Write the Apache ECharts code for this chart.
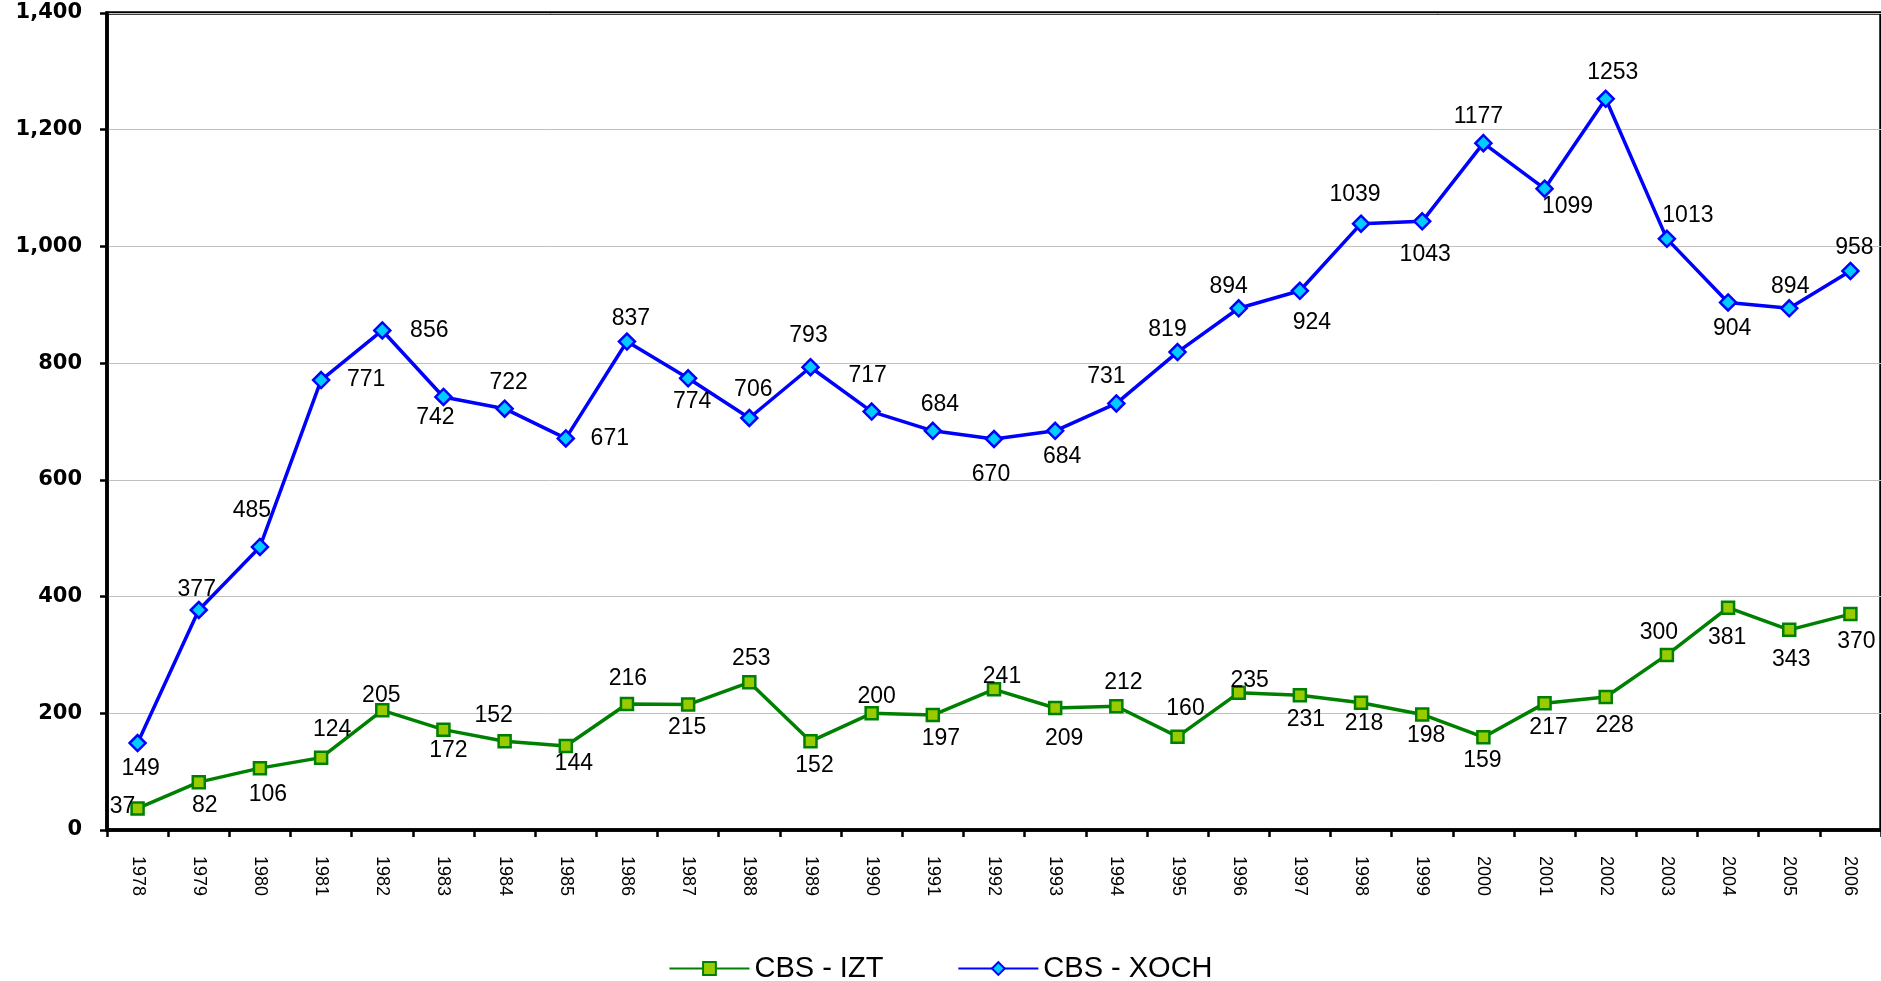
<!DOCTYPE html>
<html>
<head>
<meta charset="utf-8">
<script src="https://cdn.jsdelivr.net/npm/echarts@6/dist/echarts.min.js"></script>
<style>
html,body{margin:0;padding:0;background:#fff;}
#chart{width:1881px;height:981px;}
</style>
</head>
<body>
<div id="chart"></div>
<script>
var years = ['1978','1979','1980','1981','1982','1983','1984','1985','1986','1987','1988','1989','1990','1991','1992','1993','1994','1995','1996','1997','1998','1999','2000','2001','2002','2003','2004','2005','2006'];
var izt = [37,82,106,124,205,172,152,144,216,215,253,152,200,197,241,209,212,160,235,231,218,198,159,217,228,300,381,343,370];
var xoch = [149,377,485,771,856,742,722,671,837,774,706,793,717,684,670,684,731,819,894,924,1039,1043,1177,1099,1253,1013,904,894,958];
var seriesNames = ['CBS - IZT','CBS - XOCH'];

// label placement (pixel offsets of each value label from its point)
var iztLabelOffset = [[-15,-2],[6,24],[8,27],[11,-28],[-1,-15],[5,21],[-11,-26],[8,18],[1,-25],[-1,23],[2,-24],[4,24],[5,-17],[8,24],[8,-13],[9,31],[7,-24],[8,-28],[11,-12],[6,24],[3,21],[4,21],[-1,23],[4,24],[9,29],[-8,-22],[-1,30],[2,30],[6,28]];
var xochLabelOffset = [[3,26],[-2,-20],[-8,-36],[45,0],[47,0],[-8,21],[4,-26],[44,0],[4,-23],[4,23],[4,-28],[-2,-32],[-4,-36],[7,-26],[-3,36],[7,26],[-10,-27],[-10,-22],[-10,-22],[12,32],[-6,-29],[3,33],[-5,-26],[23,18],[7,-26],[21,-23],[4,26],[1,-22],[4,-23]];

var FONT = 'Liberation Sans, Arial, sans-serif';

function withLabels(vals, offs) {
  return vals.map(function (v, i) {
    return { value: v, label: { offset: offs[i] } };
  });
}

var chart = echarts.init(document.getElementById('chart'), null, { renderer: 'canvas' });
chart.setOption({
  animation: false,
  backgroundColor: '#fff',
  grid: {
    left: 107, top: 13, width: 1778, height: 817,
    show: true, borderColor: '#000', borderWidth: 3.5, backgroundColor: 'transparent'
  },
  legend: {
    data: seriesNames,
    top: 949,
    left: 'center',
    itemWidth: 80,
    itemHeight: 16,
    itemGap: 74,
    textStyle: { fontSize: 29, fontFamily: FONT, color: '#000' }
  },
  xAxis: {
    type: 'category',
    data: years,
    boundaryGap: true,
    axisLine: { lineStyle: { color: '#000', width: 3.5 } },
    axisTick: { show: true, alignWithLabel: false, length: 7, lineStyle: { color: '#000', width: 2.5 } },
    axisLabel: { rotate: -90, fontSize: 18, fontFamily: FONT, color: '#000', margin: 26, interval: 0 },
    splitLine: { show: false }
  },
  yAxis: {
    type: 'value',
    min: 0, max: 1400, interval: 200,
    axisLine: { show: true, lineStyle: { color: '#000', width: 3.5 } },
    axisTick: { show: true, length: 7, lineStyle: { color: '#000', width: 2.5 } },
    axisLabel: {
      fontSize: 21, fontWeight: 'bold', fontFamily: 'DejaVu Sans, Verdana, sans-serif', color: '#000', margin: 25,
      formatter: function (v) { return v.toLocaleString('en-US'); }
    },
    splitLine: { show: true, lineStyle: { color: '#c0c0c0', width: 1 } }
  },
  series: [
    {
      name: seriesNames[0],
      type: 'line',
      data: withLabels(izt, iztLabelOffset),
      symbol: 'rect',
      symbolSize: 12,
      showAllSymbol: true,
      lineStyle: { color: '#008000', width: 3.5 },
      itemStyle: { color: '#99cc00', borderColor: '#008000', borderWidth: 2.5 },
      label: { show: true, position: 'inside', color: '#000', fontSize: 23, fontFamily: FONT },
      emphasis: { disabled: true },
      z: 3
    },
    {
      name: seriesNames[1],
      type: 'line',
      data: withLabels(xoch, xochLabelOffset),
      symbol: 'diamond',
      symbolSize: 16,
      showAllSymbol: true,
      lineStyle: { color: '#0000ff', width: 3.5 },
      itemStyle: { color: '#00ccff', borderColor: '#0000ff', borderWidth: 2.5 },
      label: { show: true, position: 'inside', color: '#000', fontSize: 23, fontFamily: FONT },
      emphasis: { disabled: true },
      z: 3
    }
  ]
});
</script>
</body>
</html>
